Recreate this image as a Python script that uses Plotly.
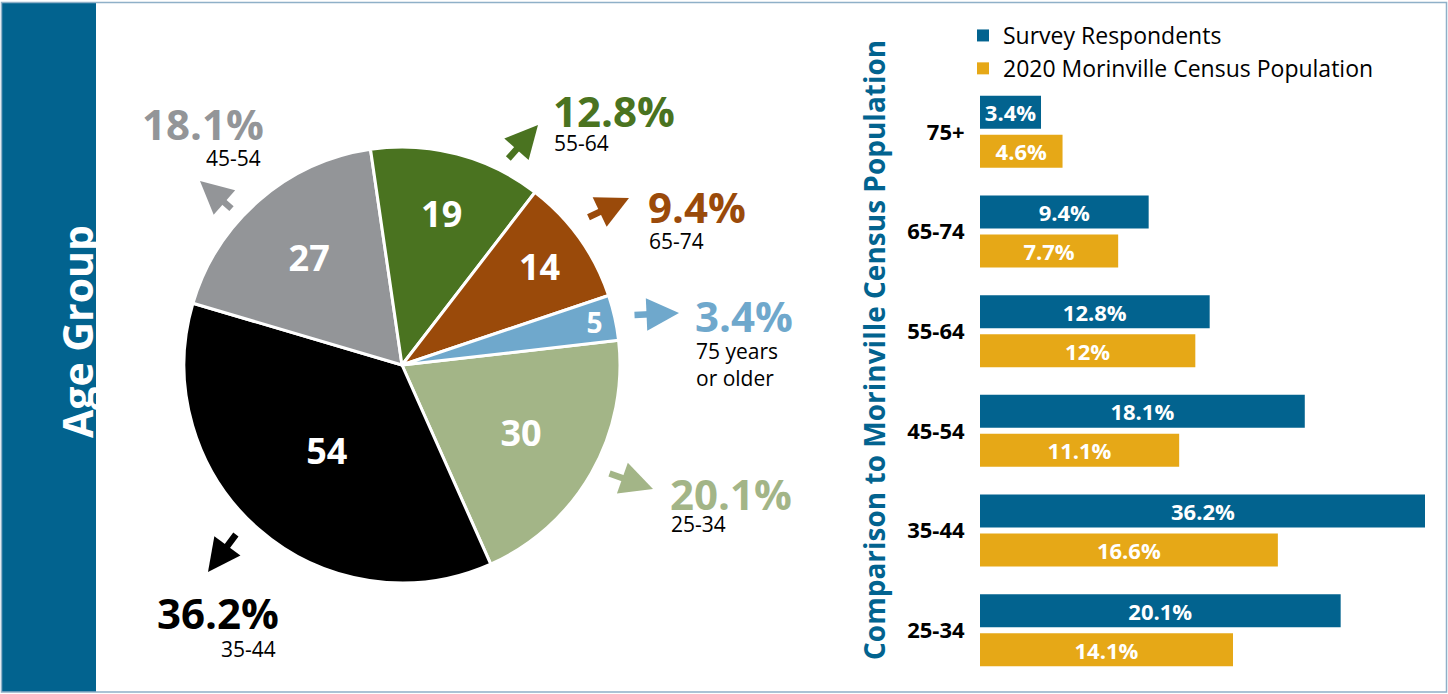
import plotly.graph_objects as go

W, H = 1448, 694

# ---- data ----
age_groups = ["25-34", "35-44", "45-54", "55-64", "65-74", "75+"]
pie_counts = [30, 54, 27, 19, 14, 5]
pie_colors = ["#a3b587", "#000000", "#939598", "#4a7320", "#9a4a0a", "#6fa8cc"]
pie_sublabels = ["25-34", "35-44", "45-54", "55-64", "65-74", "75 years<br>or older"]

survey_pct = [20.1, 36.2, 18.1, 12.8, 9.4, 3.4]
census_pct = [14.1, 16.6, 11.1, 12.0, 7.7, 4.6]

BLUE = "#02638f"
GOLD = "#e6a817"
FONT = "Open Sans"
XMAX = 24.8


def px(x):
    return x / W


def py(y):
    return 1 - y / H


fig = go.Figure()

# ---- pie ----
fig.add_trace(go.Pie(
    labels=age_groups,
    values=pie_counts,
    sort=False,
    direction="clockwise",
    rotation=83.5,
    marker=dict(colors=pie_colors, line=dict(color="white", width=3)),
    textinfo="value",
    textposition="inside",
    insidetextorientation="horizontal",
    insidetextfont=dict(family=FONT, size=36, color="white", weight="bold"),
    domain=dict(x=[px(184), px(620)], y=[py(583), py(147)]),
    showlegend=False,
    hoverinfo="label+value+percent",
))

# ---- bars ----
bar_font = dict(family=FONT, size=22, color="white", weight="bold")
fig.add_trace(go.Bar(
    name="2020 Morinville Census Population",
    y=age_groups, x=census_pct, orientation="h",
    marker=dict(color=GOLD, line=dict(width=0)),
    texttemplate="%{x}%", textposition="inside", insidetextanchor="middle",
    constraintext="none",
    textfont=bar_font,
    xaxis="x", yaxis="y",
))
# labels of bars that run past the visible axis are placed as annotations
survey_text = ["" if v > XMAX else f"{v}%" for v in survey_pct]
fig.add_trace(go.Bar(
    name="Survey Respondents",
    y=age_groups, x=survey_pct, orientation="h",
    marker=dict(color=BLUE, line=dict(width=0)),
    text=survey_text, textposition="inside", insidetextanchor="middle",
    constraintext="none",
    textfont=bar_font,
    xaxis="x", yaxis="y",
))

annotations = []
for g, v in zip(age_groups, survey_pct):
    if v > XMAX:
        annotations.append(dict(
            x=XMAX / 2, y=g, xref="x", yref="y", yshift=19.5,
            text=f"{v}%", showarrow=False, xanchor="center", yanchor="middle",
            font=bar_font,
        ))

# percentage labels around the pie
total = sum(pie_counts)
# (anchor side, label x px, pct center y px, sub center y px, arrow tip, arrow tail)
placements = [
    ("left", 668, 493, 524, (653, 489), (608, 473)),     # 25-34
    ("right", 281, 612, 649, (208, 572), (237, 533)),    # 35-44
    ("right", 266, 123, 158, (200, 181), (233, 210)),    # 45-54
    ("left", 551, 110, 143, (538, 125), (507, 160)),     # 55-64
    ("left", 646, 206, 241, (629, 198), (587, 218)),     # 65-74
    ("left", 693, 315, 364, (679, 313), (633, 315)),     # 75+
]
for i, (side, lx, ycen, ysub, tip, tail) in enumerate(placements):
    pct = pie_counts[i] / total * 100
    nlines = pie_sublabels[i].count("<br>") + 1
    annotations.append(dict(
        x=px(lx), y=py(ycen), xref="paper", yref="paper",
        text=f"{pct:.1f}%", showarrow=False,
        xanchor=side, yanchor="middle", height=34, valign="middle",
        font=dict(family=FONT, size=42, color=pie_colors[i], weight="bold"),
    ))
    annotations.append(dict(
        x=px(lx - 3 if side == "right" else lx + 1), y=py(ysub), xref="paper", yref="paper",
        text=pie_sublabels[i], showarrow=False,
        xanchor=side, yanchor="middle", align="left",
        height=20 + 27 * (nlines - 1), valign="middle",
        font=dict(family=FONT, size=21, color="black"),
    ))
    annotations.append(dict(
        x=px(tip[0]), y=py(tip[1]), xref="paper", yref="paper",
        text="", showarrow=True,
        ax=tail[0] - tip[0], ay=tail[1] - tip[1],
        arrowhead=2, arrowsize=1.0, arrowwidth=6.5,
        arrowcolor=pie_colors[i], standoff=0,
    ))

# side band title
annotations.append(dict(
    x=px(47), y=py(332), xref="paper", yref="paper",
    text="Age Group", textangle=-90, showarrow=False,
    font=dict(family=FONT, size=41, color="white", weight="bold"),
))
# bar chart axis title
annotations.append(dict(
    x=px(874), y=py(350), xref="paper", yref="paper",
    text="Comparison to Morinville Census Population", textangle=-90, showarrow=False,
    font=dict(family=FONT, size=28, color=BLUE, weight="bold"),
))

shapes = [
    dict(type="rect", xref="paper", yref="paper",
         x0=px(2), x1=px(96), y0=py(692), y1=py(3),
         fillcolor=BLUE, line=dict(width=0), layer="below"),
    dict(type="rect", xref="paper", yref="paper",
         x0=px(1.5), x1=px(1446.5), y0=py(692), y1=py(2.5),
         fillcolor="rgba(0,0,0,0)", line=dict(color="#8fb0c8", width=1.5)),
]

fig.update_layout(
    width=W, height=H,
    margin=dict(l=0, r=0, t=0, b=0),
    paper_bgcolor="white", plot_bgcolor="white",
    font=dict(family=FONT, color="black"),
    barmode="group", bargap=0.217, bargroupgap=0.154,
    xaxis=dict(domain=[px(980), px(1425)], range=[0, XMAX],
               visible=False, fixedrange=True),
    yaxis=dict(domain=[py(680), py(82)], categoryorder="array",
               categoryarray=age_groups, showgrid=False, zeroline=False,
               showline=False, ticks="outside", ticklen=10,
               tickcolor="rgba(0,0,0,0)",
               tickfont=dict(family=FONT, size=22, color="black", weight="bold"),
               anchor="x"),
    showlegend=True,
    legend=dict(x=px(963), y=py(14), xanchor="left", yanchor="top",
                traceorder="reversed",
                font=dict(family=FONT, size=23, color="black"),
                bgcolor="rgba(0,0,0,0)", itemclick=False),
    annotations=annotations,
    shapes=shapes,
)

fig.write_html("out.html",
               config={"displayModeBar": False},
               post_script="document.body.style.margin='0';document.body.style.overflow='hidden';")
